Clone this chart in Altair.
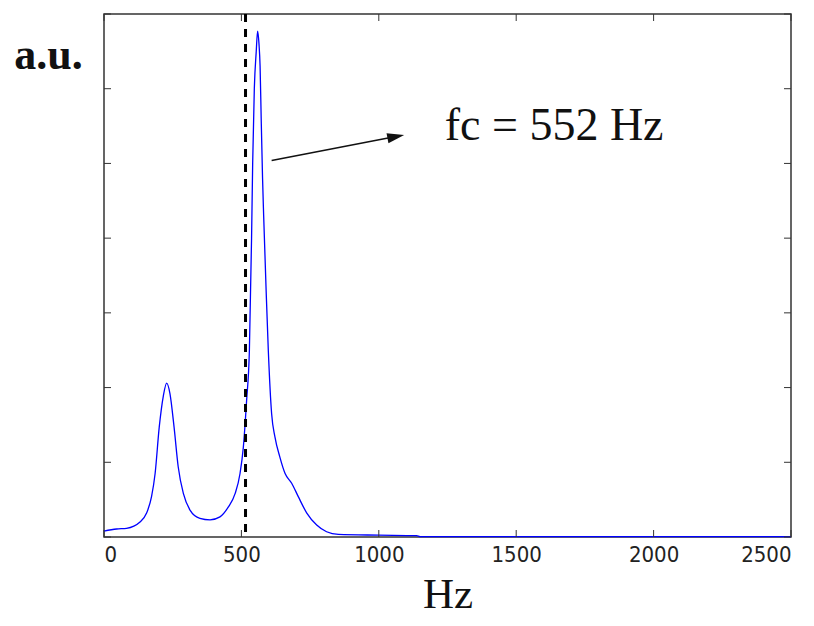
import altair as alt
import pandas as pd

# Spectrum
freq = [0, 46, 82, 131, 155, 173, 186, 201, 216, 228, 240, 255, 270, 289, 313,
        349, 386, 422, 452, 477, 495, 507, 519, 529, 537, 541, 547, 554, 559,
        564, 568, 572, 577, 581, 590, 598, 610, 622, 640, 659, 683, 707, 738,
        774, 810, 853, 1000, 1138, 1150, 1500, 2000, 2500]
amp = [0.08, 0.107, 0.116, 0.2, 0.32, 0.54, 0.85, 1.47, 1.89, 2.06, 1.92, 1.47,
       0.94, 0.58, 0.36, 0.25, 0.23, 0.27, 0.40, 0.58, 0.85, 1.2, 1.83, 2.49,
       4.0, 5.0, 6.0, 6.5, 6.77, 6.6, 6.3, 5.6, 4.8, 4.3, 3.3, 2.49, 1.65, 1.34,
       1.07, 0.85, 0.72, 0.54, 0.32, 0.16, 0.07, 0.035, 0.025, 0.018, 0.004,
       0.004, 0.004, 0.004]

x_ticks = [0, 500, 1000, 1500, 2000, 2500]
y_ticks = [0, 1, 2, 3, 4, 5, 6, 7]

cutoff = [515]                  # dashed vertical marker (Hz)
arrow_from = [610, 5.04]        # (Hz, a.u.)
arrow_to = [1062, 5.36]
label_pos = [1638, 5.32]
label_text = ["fc = 552 Hz"]

W, H = 687, 523
TL = 7

spec = pd.DataFrame({"f": freq, "a": amp})
xt = pd.DataFrame({"v": x_ticks})
yt = pd.DataFrame({"v": y_ticks})
cut = pd.DataFrame({"f": cutoff})
arr = pd.DataFrame({"f": [arrow_from[0]], "a": [arrow_from[1]],
                    "f2": [arrow_to[0]], "a2": [arrow_to[1]]})
head = pd.DataFrame({"f": [arrow_to[0]], "a": [arrow_to[1]]})
lab = pd.DataFrame({"f": [label_pos[0]], "a": [label_pos[1]], "t": label_text})

xscale = alt.Scale(domain=[0, 2500], nice=False, zero=False)
yscale = alt.Scale(domain=[0, 7], nice=False)

xaxis = alt.Axis(values=x_ticks, format="d", ticks=False, domain=False,
                 grid=False,
                 labelFont="Liberation Sans Narrow, DejaVu Sans Condensed, Liberation Sans",
                 labelFontSize=22, labelColor="#222", labelPadding=7,
                 title="Hz", titleFont="Liberation Serif", titleFontSize=43,
                 titleFontWeight="normal", titleColor="#111",
                 titleBaseline="alphabetic", titleY=70)
yaxis = alt.Axis(values=y_ticks, ticks=False, domain=False, grid=False,
                 labels=False, title="a.u.", titleFont="Liberation Serif",
                 titleFontSize=44, titleFontWeight="bold", titleColor="#111",
                 titleAngle=0, titleAlign="center", titleBaseline="alphabetic",
                 titleX=-56, titleY=54)

line = alt.Chart(spec).mark_line(color="#0000ff", strokeWidth=1.3,
                                 interpolate="monotone").encode(
    x=alt.X("f:Q", scale=xscale, axis=xaxis),
    y=alt.Y("a:Q", scale=yscale, axis=yaxis),
)

dash = alt.Chart(cut).mark_rule(color="#000", strokeWidth=3,
                                strokeDash=[8, 7]).encode(x="f:Q")

tick_style = dict(color="#333", strokeWidth=1)
bt = alt.Chart(xt).mark_rule(**tick_style).encode(
    x="v:Q", y=alt.value(H), y2=alt.value(H - TL))
tt = alt.Chart(xt).mark_rule(**tick_style).encode(
    x="v:Q", y=alt.value(0), y2=alt.value(TL))
lt = alt.Chart(yt).mark_rule(**tick_style).encode(
    y="v:Q", x=alt.value(0), x2=alt.value(TL))
rt = alt.Chart(yt).mark_rule(**tick_style).encode(
    y="v:Q", x=alt.value(W), x2=alt.value(W - TL))

arrow = alt.Chart(arr).mark_rule(color="#111", strokeWidth=1.4).encode(
    x="f:Q", y="a:Q", x2="f2:Q", y2="a2:Q")
arrowhead = alt.Chart(head).mark_point(
    shape="M-1,-0.6L1,0L-1,0.6Z", filled=True, color="#111", opacity=1,
    size=289, angle=349).encode(x="f:Q", y="a:Q")

text = alt.Chart(lab).mark_text(font="Liberation Serif", fontSize=46,
                                color="#111", align="center",
                                baseline="alphabetic").encode(
    x="f:Q", y="a:Q", text="t:N")

chart = alt.layer(line, dash, bt, tt, lt, rt, arrow, arrowhead, text).properties(
    width=W, height=H,
    autosize=alt.AutoSizeParams(type="none"),
    padding={"left": 96, "top": 6, "right": 15, "bottom": 81},
    background="white",
).configure_view(stroke="#333", strokeWidth=1.5)

chart.save("out.html", embed_options={"renderer": "svg", "actions": False})
